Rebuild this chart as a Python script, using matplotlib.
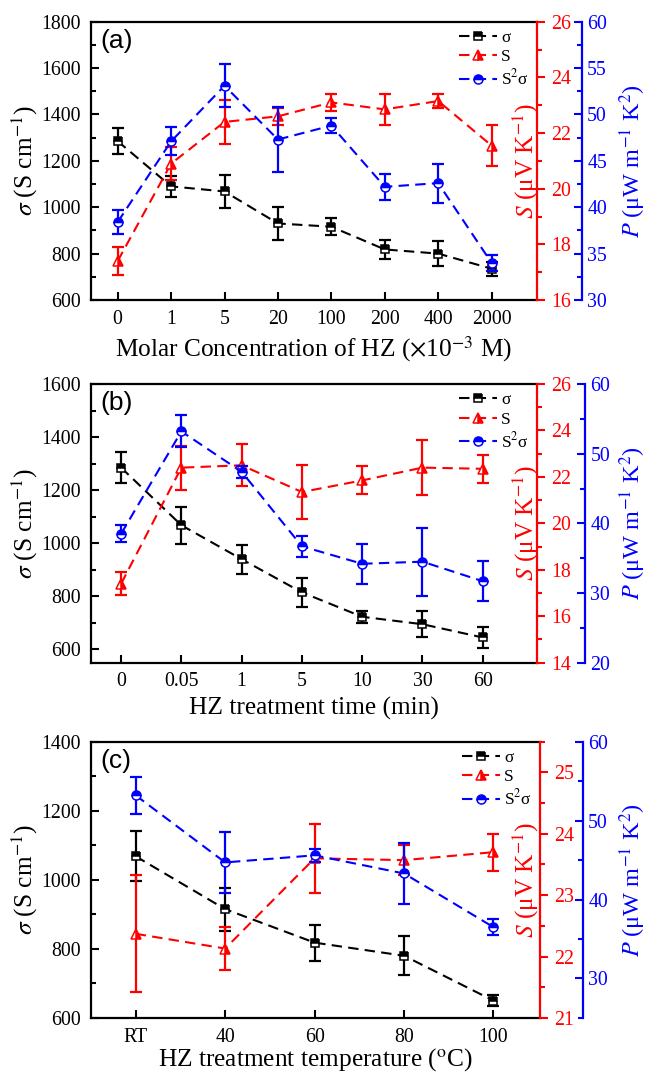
import matplotlib
matplotlib.use('Agg')
import matplotlib.pyplot as plt
from matplotlib.ticker import MultipleLocator

plt.rcParams['font.family'] = 'Liberation Serif'
plt.rcParams['mathtext.fontset'] = 'stix'

# (a) molar concentration of HZ
conc = ['0', '1', '5', '20', '100', '200', '400', '2000']
sig_a = [1285, 1090, 1068, 930, 916, 818, 800, 735]
sig_a_err = [55, 45, 70, 73, 36, 40, 55, 30]
s_a = [17.4, 20.9, 22.4, 22.6, 23.1, 22.85, 23.15, 21.55]
s_a_err = [0.5, 0.6, 0.8, 0.3, 0.3, 0.55, 0.25, 0.75]
p_a = [38.4, 47.1, 53.1, 47.3, 48.8, 42.2, 42.6, 34.0]
p_a_err = [1.3, 1.5, 2.3, 3.5, 0.8, 1.4, 2.1, 0.9]

# (b) treatment time
times = ['0', '0.05', '1', '5', '10', '30', '60']
sig_b = [1285, 1068, 940, 815, 723, 695, 645]
sig_b_err = [58, 70, 55, 55, 23, 50, 40]
s_b = [17.4, 22.4, 22.5, 21.35, 21.85, 22.4, 22.35]
s_b_err = [0.5, 0.95, 0.9, 1.15, 0.6, 1.2, 0.6]
p_b = [38.5, 53.2, 47.4, 36.7, 34.2, 34.5, 31.7]
p_b_err = [1.2, 2.3, 0.9, 1.5, 2.9, 4.9, 2.9]

# (c) treatment temperature
temps = ['RT', '40', '60', '80', '100']
sig_c = [1068, 915, 818, 780, 650]
sig_c_err = [72, 62, 52, 56, 15]
s_c = [22.37, 22.13, 23.6, 23.57, 23.7]
s_c_err = [0.95, 0.35, 0.56, 0.25, 0.3]
p_c = [53.2, 44.7, 45.6, 43.3, 36.5]
p_c_err = [2.3, 3.9, 0.85, 3.9, 1.0]

fig = plt.figure(figsize=(6.47, 10.76), dpi=100)


def series(ax, x, y, err, color, marker, fill, ms):
    ax.errorbar(x, y, yerr=err, fmt='none', ecolor=color, elinewidth=1.6,
                capsize=4.3, capthick=1.6, zorder=3)
    line, = ax.plot(x, y, color=color, ls=(0, (5, 3)), lw=1.5, marker=marker,
                    fillstyle=fill, markerfacecolor=color, markerfacecoloralt='white',
                    markeredgecolor=color, markeredgewidth=1.1, ms=ms, zorder=4)
    return line


def panel(rect, labels, sig, sig_err, s, s_err, p, p_err, xlabel, tag,
          xmax, sig_lim, sig_top, s_lim, s_major, p_lim, p_major, p_off, xpad):
    ax = fig.add_axes(rect)
    x = list(range(len(labels)))
    ax2 = ax.twinx()
    ax3 = ax.twinx()
    ymid = rect[1] + rect[3] / 2

    l1 = series(ax, x, sig, sig_err, 'black', 's', 'top', 5.5)
    l2 = series(ax2, x, s, s_err, 'red', '^', 'right', 7)
    l3 = series(ax3, x, p, p_err, 'blue', 'o', 'top', 6.5)

    ax.set_xlim(-0.5, xmax)
    ax.set_ylim(*sig_lim)
    ax.set_xticks(x)
    ax.set_xticklabels(labels)
    ax.set_yticks(range(600, sig_top + 1, 200))
    ax.yaxis.set_minor_locator(MultipleLocator(100))
    ax.tick_params(axis='both', which='both', direction='in', width=1.5,
                   labelsize=14.3, top=False, right=False, pad=7)
    ax.tick_params(which='major', length=6)
    ax.tick_params(which='minor', length=3.5)
    ax.spines['right'].set_visible(False)
    for sp in ['left', 'top', 'bottom']:
        ax.spines[sp].set_linewidth(1.6)
    ax.set_xlabel(xlabel, fontsize=18.3, labelpad=xpad)
    ax.set_ylabel(r'$\sigma$ (S cm$^{-1}$)', fontsize=18.3)
    ax.yaxis.set_label_coords(0.062, ymid, transform=fig.transFigure)
    ax.text(0.02, 0.975, tag, transform=ax.transAxes, va='top', ha='left',
            fontsize=19, family='Liberation Sans')

    ax2.set_ylim(*s_lim)
    ax2.yaxis.set_major_locator(MultipleLocator(s_major))
    ax2.yaxis.set_minor_locator(MultipleLocator(s_major / 2))
    ax2.tick_params(axis='y', which='both', direction='out', colors='red',
                    width=1.5, labelsize=14.3, pad=4)
    ax2.tick_params(which='major', length=6)
    ax2.tick_params(which='minor', length=3.5)
    for sp in ['left', 'top', 'bottom']:
        ax2.spines[sp].set_visible(False)
    ax2.spines['right'].set_color('red')
    ax2.spines['right'].set_linewidth(1.6)
    ax2.set_ylabel(r'$S$ (μV K$^{-1}$)', color='red', fontsize=18.3)
    ax2.yaxis.set_label_coords(0.789, ymid, transform=fig.transFigure)

    ax3.set_ylim(*p_lim)
    ax3.yaxis.set_major_locator(MultipleLocator(p_major))
    ax3.yaxis.set_minor_locator(MultipleLocator(p_major / 2))
    ax3.spines['right'].set_position(('axes', 1 + p_off))
    for sp in ['left', 'top', 'bottom']:
        ax3.spines[sp].set_visible(False)
    ax3.spines['right'].set_color('blue')
    ax3.spines['right'].set_linewidth(1.6)
    ax3.tick_params(axis='y', which='both', direction='in', colors='blue',
                    width=1.5, labelsize=14.3, pad=4)
    ax3.tick_params(which='major', length=6)
    ax3.tick_params(which='minor', length=3.5)
    ax3.set_ylabel(r'$P$ (μW m$^{-1}$ K$^{2}$)', color='blue', fontsize=17.5)
    ax3.yaxis.set_label_coords(0.955, ymid, transform=fig.transFigure)

    ax3.legend([l1, l2, l3], [r'σ', 'S', r'S$^2$σ'], loc='upper right',
               bbox_to_anchor=(1.0, 1.0), frameon=False, fontsize=12.5,
               handlelength=2.2, labelspacing=0.2, handletextpad=0.25,
               borderaxespad=0.2, borderpad=0.25)
    return ax


panel([0.1406, 0.7212, 0.6894, 0.2586], conc, sig_a, sig_a_err, s_a, s_a_err,
      p_a, p_a_err, r'Molar Concentration of HZ ($\times$10$^{-3}$ M)', '(a)',
      7.85, (600, 1800), 1800, (16, 26), 2, (30, 60), 5, 0.10, 4)

panel([0.1406, 0.3841, 0.6894, 0.2590], times, sig_b, sig_b_err, s_b, s_b_err,
      p_b, p_b_err, 'HZ treatment time (min)', '(b)',
      6.9, (550, 1600), 1600, (14, 26), 2, (20, 60), 10, 0.107, 4)

panel([0.1406, 0.0540, 0.6940, 0.2567], temps, sig_c, sig_c_err, s_c, s_c_err,
      p_c, p_c_err, r'HZ treatment temperature ($^{\rm o}$C)', '(c)',
      4.52, (600, 1400), 1400, (21, 25.5), 1, (25, 60), 10, 0.095, 0)

fig.savefig('out.png', dpi=100)
